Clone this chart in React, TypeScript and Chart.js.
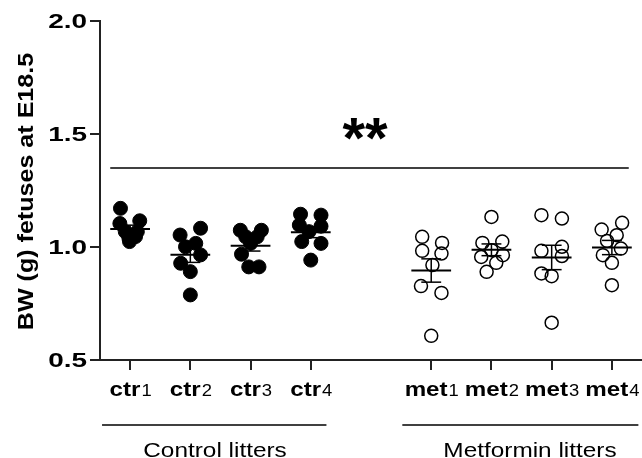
import { useEffect, useRef } from 'react';
import { Chart, registerables } from 'chart.js';

Chart.register(...registerables);

// ---------- data ----------
const categoryNames = ['ctr', 'ctr', 'ctr', 'ctr', 'met', 'met', 'met', 'met'];
const categoryIndices = ['1', '2', '3', '4', '1', '2', '3', '4'];
const categoryPositions = [0, 1, 2, 3, 5, 6, 7, 8];
const yTickValues = [0.5, 1.0, 1.5, 2.0];

const ctr1Values = [1.171, 1.104, 1.116, 1.068, 1.068, 1.039, 1.046, 1.024];
const ctr2Values = [1.053, 1.083, 1.001, 1.016, 0.965, 0.928, 0.891, 0.788];
const ctr3Values = [1.074, 1.074, 1.045, 1.045, 1.016, 0.968, 0.912, 0.912];
const ctr4Values = [1.145, 1.141, 1.097, 1.092, 1.068, 1.024, 1.016, 0.942];
const met1Values = [1.045, 0.983, 1.018, 0.971, 0.92, 0.827, 0.797, 0.607];
const met2Values = [1.133, 1.018, 1.024, 0.986, 0.956, 0.964, 0.93, 0.89];
const met3Values = [1.141, 1.126, 0.983, 1.001, 0.96, 0.883, 0.871, 0.665];
const met4Values = [1.107, 1.077, 1.052, 1.027, 0.993, 0.964, 0.93, 0.831];

// horizontal scatter (jitter) of each point, in category units
const ctr1Jitter = [-0.16, -0.17, 0.16, -0.08, 0.12, -0.02, 0.09, -0.01];
const ctr2Jitter = [-0.17, 0.17, -0.08, 0.09, 0.17, -0.16, 0, 0];
const ctr3Jitter = [-0.17, 0.18, -0.08, 0.11, 0, -0.15, -0.03, 0.14];
const ctr4Jitter = [-0.17, 0.17, -0.19, 0.17, -0.03, -0.15, 0.17, 0];
const met1Jitter = [-0.15, -0.15, 0.18, 0.17, 0.02, -0.17, 0.17, 0];
const met2Jitter = [0, -0.15, 0.18, 0, -0.17, 0.19, 0.08, -0.08];
const met3Jitter = [-0.17, 0.17, -0.17, 0.17, 0.17, -0.17, 0, 0];
const met4Jitter = [0.17, -0.17, 0.08, -0.08, 0.15, -0.15, 0, 0];

const groupTitles = ['Control litters', 'Metformin litters'];
const significanceLabel = '**';
const significanceLevel = 1.35;
const yAxisTitle = 'BW (g) fetuses at E18.5';

const seriesValues = [ctr1Values, ctr2Values, ctr3Values, ctr4Values, met1Values, met2Values, met3Values, met4Values];
const seriesJitter = [ctr1Jitter, ctr2Jitter, ctr3Jitter, ctr4Jitter, met1Jitter, met2Jitter, met3Jitter, met4Jitter];

// ---------- drawing helpers ----------
const FONT = '"Liberation Sans", Arial, sans-serif';

function stretchedText(ctx: CanvasRenderingContext2D, text: string, x: number, y: number, font: string, sx: number, align: 'left' | 'center' | 'right', baseline: CanvasTextBaseline = 'alphabetic') {
  ctx.save();
  ctx.font = font;
  ctx.textBaseline = baseline;
  ctx.textAlign = 'left';
  const w = ctx.measureText(text).width * sx;
  const x0 = align === 'center' ? x - w / 2 : align === 'right' ? x - w : x;
  ctx.translate(x0, y);
  ctx.scale(sx, 1);
  ctx.fillText(text, 0, 0);
  ctx.restore();
}

function line(ctx: CanvasRenderingContext2D, x1: number, y1: number, x2: number, y2: number) {
  ctx.beginPath();
  ctx.moveTo(x1, y1);
  ctx.lineTo(x2, y2);
  ctx.stroke();
}

const overlayPlugin = {
  id: 'overlay',
  afterDatasetsDraw(chart: any) {
    const { ctx, chartArea } = chart;
    const x = chart.scales.x;
    const y = chart.scales.y;
    ctx.save();
    ctx.strokeStyle = '#000';
    ctx.fillStyle = '#000';

    // mean ± SEM
    seriesValues.forEach((vals, i) => {
      const pos = categoryPositions[i];
      const n = vals.length;
      const mean = vals.reduce((a, b) => a + b, 0) / n;
      const sd = Math.sqrt(vals.reduce((a, b) => a + (b - mean) ** 2, 0) / (n - 1));
      const sem = sd / Math.sqrt(n);
      const ym = y.getPixelForValue(mean);
      const yt = y.getPixelForValue(mean + sem);
      const yb = y.getPixelForValue(mean - sem);
      const xc = x.getPixelForValue(pos);
      ctx.lineWidth = 2;
      line(ctx, x.getPixelForValue(pos - 0.33), ym, x.getPixelForValue(pos + 0.33), ym);
      ctx.lineWidth = 1.5;
      line(ctx, xc, yt, xc, yb);
      line(ctx, x.getPixelForValue(pos - 0.165), yt, x.getPixelForValue(pos + 0.165), yt);
      line(ctx, x.getPixelForValue(pos - 0.165), yb, x.getPixelForValue(pos + 0.165), yb);
    });

    // significance bar
    const ys = y.getPixelForValue(significanceLevel);
    ctx.lineWidth = 1.5;
    line(ctx, x.getPixelForValue(-0.33), ys, x.getPixelForValue(8.28), ys);
    ctx.font = `bold 58px ${FONT}`;
    const m = ctx.measureText(significanceLabel);
    const cy = y.getPixelForValue(1.52);
    const base = cy + (m.actualBoundingBoxAscent - m.actualBoundingBoxDescent) / 2;
    ctx.textAlign = 'center';
    ctx.textBaseline = 'alphabetic';
    ctx.fillText(significanceLabel, x.getPixelForValue(3.9), base);

    // x category labels (bold name + regular index)
    const sxX = 1.15;
    const mainFont = `bold 21px ${FONT}`;
    const subFont = `16px ${FONT}`;
    categoryPositions.forEach((pos, i) => {
      ctx.font = mainFont;
      const wm = ctx.measureText(categoryNames[i]).width * sxX;
      ctx.font = subFont;
      const ws = ctx.measureText(categoryIndices[i]).width * sxX;
      const xc = x.getPixelForValue(pos);
      const x0 = xc - (wm + ws) / 2;
      const baseY = chartArea.bottom + 36;
      stretchedText(ctx, categoryNames[i], x0, baseY, mainFont, sxX, 'left');
      stretchedText(ctx, categoryIndices[i], x0 + wm + 1, baseY, subFont, sxX, 'left');
    });

    // group underlines and titles
    ctx.lineWidth = 1.5;
    const gy = chartArea.bottom + 65;
    line(ctx, x.getPixelForValue(-0.466), gy, x.getPixelForValue(3.26), gy);
    line(ctx, x.getPixelForValue(4.52), gy, x.getPixelForValue(8.44), gy);
    const groupFont = `21px ${FONT}`;
    stretchedText(ctx, groupTitles[0], x.getPixelForValue(1.41), chartArea.bottom + 97, groupFont, 1.16, 'center');
    stretchedText(ctx, groupTitles[1], x.getPixelForValue(6.64), chartArea.bottom + 97, groupFont, 1.16, 'center');

    // y tick labels
    yTickValues.forEach((v) => {
      stretchedText(ctx, v.toFixed(1), chartArea.left - 13, y.getPixelForValue(v) + 1, `bold 21px ${FONT}`, 1.33, 'right', 'middle');
    });

    // y axis title
    ctx.save();
    ctx.translate(33, (chartArea.top + chartArea.bottom) / 2 + 1);
    ctx.rotate(-Math.PI / 2);
    stretchedText(ctx, yAxisTitle, 0, 0, `bold 22px ${FONT}`, 1.14, 'center');
    ctx.restore();

    ctx.restore();
  },
};

export default function App() {
  const canvasRef = useRef<HTMLCanvasElement | null>(null);

  useEffect(() => {
    document.body.style.margin = '0';
    const canvas = canvasRef.current;
    if (!canvas) return;

    const datasets = seriesValues.map((vals, i) => {
      const isControl = i < 4;
      return {
        label: categoryNames[i] + categoryIndices[i],
        data: vals.map((v, j) => ({ x: categoryPositions[i] + seriesJitter[i][j], y: v })),
        pointRadius: isControl ? 7 : 6.5,
        pointHoverRadius: isControl ? 7 : 6.5,
        pointStyle: 'circle',
        backgroundColor: isControl ? '#000' : 'rgba(0,0,0,0)',
        borderColor: '#000',
        borderWidth: isControl ? 1 : 1.5,
      };
    });

    const chart = new Chart(canvas, {
      type: 'scatter',
      data: { datasets },
      options: {
        animation: false,
        responsive: false,
        events: [],
        layout: { autoPadding: false, padding: { top: 21, right: 0, left: 2, bottom: 0 } },
        plugins: { legend: { display: false }, tooltip: { enabled: false } },
        scales: {
          x: {
            type: 'linear',
            min: -0.5,
            max: 8.5,
            afterBuildTicks: (scale: any) => {
              scale.ticks = categoryPositions.map((v) => ({ value: v }));
            },
            afterFit: (scale: any) => {
              scale.height = 98;
            },
            ticks: { display: false },
            grid: { drawOnChartArea: false, drawTicks: true, tickLength: 10, color: '#222', lineWidth: 2 },
            border: { display: true, color: '#222', width: 2 },
          },
          y: {
            type: 'linear',
            min: 0.5,
            max: 2.0,
            afterBuildTicks: (scale: any) => {
              scale.ticks = yTickValues.map((v) => ({ value: v }));
            },
            afterFit: (scale: any) => {
              scale.width = 98;
            },
            ticks: { display: false },
            grid: { drawOnChartArea: false, drawTicks: true, tickLength: 10, color: '#222', lineWidth: 2 },
            border: { display: true, color: '#222', width: 2 },
          },
        },
      },
      plugins: [overlayPlugin],
    });

    return () => chart.destroy();
  }, []);

  return <canvas ref={canvasRef} width={642} height={458} style={{ display: 'block' }} />;
}
